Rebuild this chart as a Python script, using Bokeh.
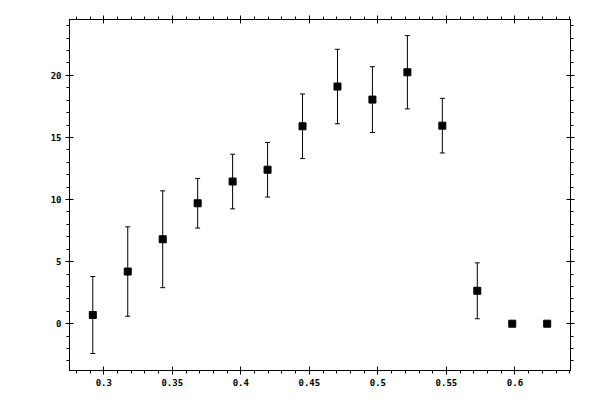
from bokeh.plotting import figure
from bokeh.models import (Range1d, LinearAxis, SingleIntervalTicker, NumeralTickFormatter,
                          CustomJSTickFormatter, ColumnDataSource, Whisker, TeeHead)
from bokeh.embed import file_html
from bokeh.resources import INLINE

x_vals = [0.292, 0.3175, 0.343, 0.3685, 0.394, 0.4195, 0.445, 0.4705, 0.496, 0.5215, 0.547, 0.5725, 0.598, 0.6235]
y_vals = [0.7, 4.2, 6.8, 9.7, 11.45, 12.4, 15.9, 19.1, 18.05, 20.25, 15.95, 2.65, 0.0, 0.0]
y_err = [3.1, 3.6, 3.9, 2.0, 2.2, 2.2, 2.6, 3.0, 2.65, 2.95, 2.2, 2.25, 0.0, 0.0]

src = ColumnDataSource(dict(
    x=x_vals, y=y_vals,
    lo=[v - e for v, e in zip(y_vals, y_err)],
    hi=[v + e for v, e in zip(y_vals, y_err)],
))

p = figure(width=590, height=390, output_backend="svg", toolbar_location=None,
           x_range=Range1d(0.275, 0.6405), y_range=Range1d(-3.77, 24.5),
           x_axis_location=None, y_axis_location=None,
           min_border_left=69, min_border_right=20, min_border_top=19, min_border_bottom=20)
p.xgrid.visible = False
p.ygrid.visible = False
p.outline_line_color = "black"
p.background_fill_color = "white"
p.border_fill_color = "white"

font = "DejaVu Sans Mono"

def style(ax, labels=True):
    ax.axis_line_color = "black"
    ax.axis_line_width = 1
    ax.major_tick_in = 4
    ax.major_tick_out = 4
    ax.minor_tick_in = 0
    ax.minor_tick_out = 3
    ax.major_tick_line_color = "black"
    ax.minor_tick_line_color = "black"
    ax.major_label_text_font = font
    ax.major_label_text_font_size = "9px"
    ax.major_label_text_font_style = "bold"
    ax.major_label_text_color = "black"
    ax.major_label_standoff = 4 if labels else 0

xt = lambda: SingleIntervalTicker(interval=0.05, num_minor_ticks=5)
yt = lambda: SingleIntervalTicker(interval=5, num_minor_ticks=5)
blank = lambda: CustomJSTickFormatter(code="return '';")

xb = LinearAxis(ticker=xt(), formatter=NumeralTickFormatter(format="0.[00]"))
style(xb)
p.add_layout(xb, "below")
xa = LinearAxis(ticker=xt(), formatter=blank())
style(xa, False)
p.add_layout(xa, "above")
yl = LinearAxis(ticker=yt(), formatter=NumeralTickFormatter(format="0"))
style(yl)
p.add_layout(yl, "left")
yr = LinearAxis(ticker=yt(), formatter=blank())
style(yr, False)
p.add_layout(yr, "right")

w = Whisker(source=src, base="x", lower="lo", upper="hi", dimension="height",
            line_color="black", line_width=1,
            lower_head=TeeHead(size=5, line_color="black", line_width=1),
            upper_head=TeeHead(size=5, line_color="black", line_width=1))
p.add_layout(w)

p.scatter("x", "y", source=src, marker="square", size=7, fill_color="black", line_color="black")

open("out.html", "w").write(file_html(p, INLINE))
